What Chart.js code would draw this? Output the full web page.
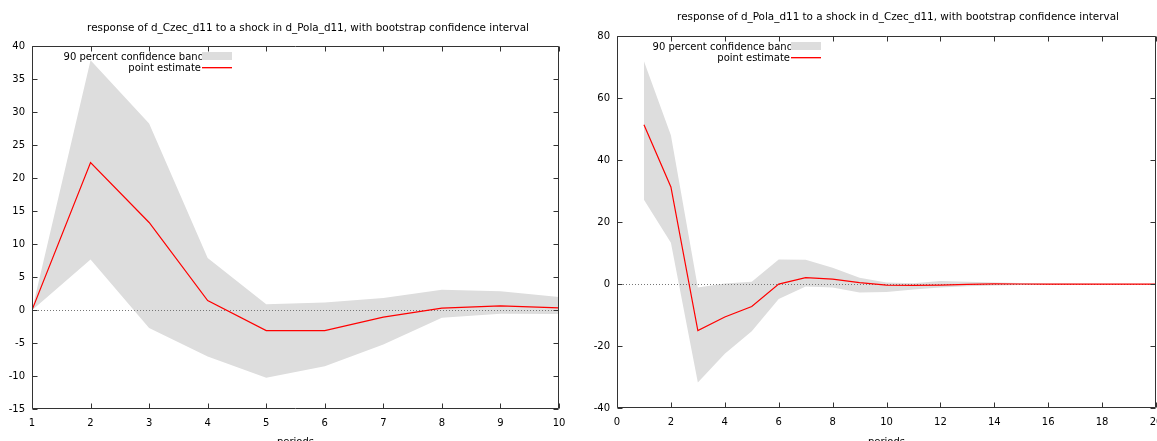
<!DOCTYPE html>
<html>
<head>
<meta charset="utf-8">
<script src="https://cdn.jsdelivr.net/npm/chart.js@4"></script>
<style>
  html, body { margin: 0; padding: 0; background: #fff; overflow: hidden; }
  #wrap { position: relative; width: 1157px; height: 441px; overflow: hidden; background: #fff; }
  .cv { position: absolute; top: 0; }
</style>
</head>
<body>
<div id="wrap">
  <div class="cv" style="left:0px;width:616px;height:452px;"><canvas id="c1"></canvas></div>
  <div class="cv" style="left:580px;width:636px;height:452px;"><canvas id="c2"></canvas></div>
</div>
<script>
// ---- Left panel: response of d_Czec_d11 to a shock in d_Pola_d11 ----
const periodsL = [1, 2, 3, 4, 5, 6, 7, 8, 9, 10];
const pointL   = [0, 22.4, 13.3, 1.45, -3.1, -3.1, -1.05, 0.3, 0.65, 0.35];
const upperL   = [0, 37.9, 28.3, 7.9, 0.9, 1.15, 1.85, 3.1, 2.85, 2.0];
const lowerL   = [0, 7.7, -2.7, -7.05, -10.25, -8.5, -5.2, -1.15, -0.55, -0.6];
const xTicksL  = [1, 2, 3, 4, 5, 6, 7, 8, 9, 10];
const yTicksL  = [-15, -10, -5, 0, 5, 10, 15, 20, 25, 30, 35, 40];

// ---- Right panel: response of d_Pola_d11 to a shock in d_Czec_d11 ----
const periodsR = [1, 2, 3, 4, 5, 6, 7, 8, 9, 10, 11, 12, 13, 14, 15, 16, 17, 18, 19, 20];
const pointR   = [51.5, 31.4, -15.0, -10.6, -7.2, 0, 2.1, 1.6, 0.5, -0.3, -0.4, -0.3, -0.1, 0.1, 0.05, 0, 0, 0, 0, 0];
const upperR   = [72.0, 48.1, -1.1, 0.2, 0.75, 8.0, 7.9, 5.3, 2.1, 0.5, 0.3, 1.0, 0.8, 0.5, 0.35, 0.25, 0.2, 0.15, 0.15, 0.1];
const lowerR   = [27.3, 13.4, -31.8, -22.5, -15.2, -4.8, -0.75, -1.1, -2.7, -2.5, -1.7, -1.1, -0.7, -0.4, -0.3, -0.2, -0.15, -0.15, -0.1, -0.1];
const xTicksR  = [0, 2, 4, 6, 8, 10, 12, 14, 16, 18, 20];
const yTicksR  = [-40, -20, 0, 20, 40, 60, 80];

const titleL = 'response of d_Czec_d11 to a shock in d_Pola_d11, with bootstrap confidence interval';
const titleR = 'response of d_Pola_d11 to a shock in d_Czec_d11, with bootstrap confidence interval';
const bandLabel = '90 percent confidence band';
const pointLabel = 'point estimate';
const xTitle = 'periods';

const FONT = { family: "'DejaVu Sans', sans-serif", size: 10, weight: 'normal', lineHeight: 1.2 };
const TFONT = { family: "'DejaVu Sans', sans-serif", size: 10.4, weight: 'normal', lineHeight: 1.2 };
const BAND = 'rgb(221,221,221)';
const RED = 'rgb(255,0,0)';
const FRAME = '#333333';

const framePlugin = {
  id: 'gnuframe',
  beforeDatasetDraw(chart, args) {
    if (args.index !== 0) return;
    const { ctx, chartArea: a, scales } = chart;
    const y0 = Math.round(scales.y.getPixelForValue(0)) + 0.5;
    ctx.save();
    ctx.strokeStyle = '#777';
    ctx.lineWidth = 1;
    ctx.setLineDash([1, 2]);
    ctx.beginPath();
    ctx.moveTo(a.left, y0);
    ctx.lineTo(a.right, y0);
    ctx.stroke();
    ctx.restore();
  },
  afterDatasetsDraw(chart) {
    const { ctx, chartArea: a, scales } = chart;
    const o = chart.options.plugins.gnuframe;
    const L = Math.round(a.left) + 0.5, R = Math.round(a.right) - 0.5;
    const T = Math.round(a.top) + 0.5, B = Math.round(a.bottom) - 0.5;
    ctx.save();
    ctx.setLineDash([]);
    ctx.strokeStyle = FRAME;
    ctx.lineWidth = 1;
    ctx.beginPath();
    ctx.rect(L, T, R - L, B - T);
    const tl = 5;
    scales.x.ticks.forEach(t => {
      const x = Math.round(scales.x.getPixelForValue(t.value)) + 0.5;
      ctx.moveTo(x, B); ctx.lineTo(x, B - tl);
      ctx.moveTo(x, T); ctx.lineTo(x, T + tl);
    });
    scales.y.ticks.forEach(t => {
      const y = Math.round(scales.y.getPixelForValue(t.value)) + 0.5;
      ctx.moveTo(L, y); ctx.lineTo(L + tl, y);
      ctx.moveTo(R, y); ctx.lineTo(R - tl, y);
    });
    ctx.stroke();
    ctx.restore();

    // gnuplot-style key: right-aligned text followed by sample
    const bx = Math.round(a.left + o.keyOffsetX);
    const ty = Math.round(a.top);
    ctx.save();
    ctx.font = "10px 'DejaVu Sans', sans-serif";
    ctx.fillStyle = '#000';
    ctx.textBaseline = 'middle';
    ctx.textAlign = 'right';
    ctx.fillText(chart.data.datasets[1].label, bx + 2, ty + 11.5);
    ctx.fillText(chart.data.datasets[0].label, bx - 1, ty + 22.5);
    ctx.fillStyle = BAND;
    ctx.fillRect(bx, ty + 6, 30, 8);
    ctx.fillStyle = RED;
    ctx.fillRect(bx, ty + 21, 30, 1);
    ctx.fillStyle = 'rgba(255,0,0,0.35)';
    ctx.fillRect(bx, ty + 22, 30, 1);
    ctx.restore();
  }
};

function pts(xs, ys) { return xs.map((x, i) => ({ x: x, y: ys[i] })); }

function makeChart(id, cfg) {
  return new Chart(document.getElementById(id), {
    type: 'line',
    data: {
      datasets: [
        { label: pointLabel, data: pts(cfg.periods, cfg.point), borderColor: RED, borderWidth: 1.2,
          pointRadius: 0, fill: false, tension: 0 },
        { label: bandLabel, data: pts(cfg.periods, cfg.upper), borderColor: BAND, borderWidth: 0,
          backgroundColor: BAND, pointRadius: 0, fill: '+1', tension: 0 },
        { label: bandLabel + ' (lower)', data: pts(cfg.periods, cfg.lower), borderColor: BAND, borderWidth: 0,
          backgroundColor: BAND, pointRadius: 0, fill: false, tension: 0 }
      ]
    },
    options: {
      responsive: true,
      maintainAspectRatio: false,
      animation: false,
      events: [],
      layout: { padding: 0 },
      plugins: {
        legend: { display: false },
        tooltip: { enabled: false },
        title: {
          display: true, text: cfg.title, color: '#000', font: TFONT,
          padding: { top: cfg.titlePadTop, bottom: cfg.titlePadBottom }
        },
        gnuframe: { keyOffsetX: cfg.keyOffsetX }
      },
      scales: {
        x: {
          type: 'linear', position: 'bottom', min: cfg.xTicks[0], max: cfg.xTicks[cfg.xTicks.length - 1],
          afterBuildTicks: s => { s.ticks = cfg.xTicks.map(v => ({ value: v })); },
          afterFit: s => { s.height = cfg.xAxisHeight; },
          grid: { display: false, drawTicks: false },
          border: { display: false },
          ticks: { color: '#000', font: FONT, padding: 8, maxRotation: 0, autoSkip: false },
          title: { display: true, text: xTitle, color: '#000', font: FONT, padding: { top: 0, bottom: 4 } }
        },
        y: {
          type: 'linear', position: 'left', min: cfg.yTicks[0], max: cfg.yTicks[cfg.yTicks.length - 1],
          afterBuildTicks: s => { s.ticks = cfg.yTicks.map(v => ({ value: v })); },
          afterFit: s => { s.width = cfg.yAxisWidth; },
          grid: { display: false, drawTicks: false },
          border: { display: false },
          ticks: { color: '#000', font: FONT, padding: 7, autoSkip: false }
        },
        yR: {
          type: 'linear', position: 'right', display: true,
          afterFit: s => { s.width = cfg.rightReserve; },
          grid: { display: false, drawTicks: false },
          border: { display: false },
          ticks: { display: false }
        }
      }
    },
    plugins: [framePlugin]
  });
}

makeChart('c1', {
  periods: periodsL, point: pointL, upper: upperL, lower: lowerL,
  xTicks: xTicksL, yTicks: yTicksL, title: titleL,
  titlePadTop: 22, titlePadBottom: 12, xAxisHeight: 43, yAxisWidth: 32, rightReserve: 57,
  keyOffsetX: 170
});
makeChart('c2', {
  periods: periodsR, point: pointR, upper: upperR, lower: lowerR,
  xTicks: xTicksR, yTicks: yTicksR, title: titleR,
  titlePadTop: 11, titlePadBottom: 13, xAxisHeight: 44, yAxisWidth: 37, rightReserve: 60,
  keyOffsetX: 174
});
</script>
</body>
</html>
